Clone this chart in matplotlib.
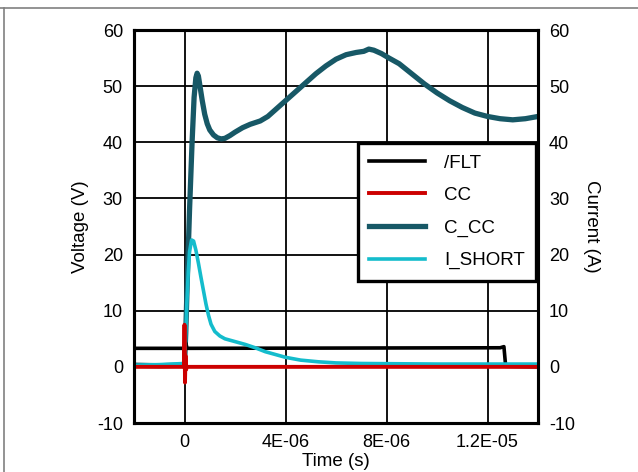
import matplotlib.pyplot as plt
from matplotlib.lines import Line2D

plt.rcParams['font.family'] = ['Liberation Sans', 'DejaVu Sans']
plt.rcParams['axes.unicode_minus'] = False

# time axis in seconds
t_cc = [-2e-6, -1e-6, -0.1e-6, 0, 0.05e-6, 0.1e-6, 0.2e-6, 0.3e-6, 0.38e-6, 0.45e-6,
        0.5e-6, 0.55e-6, 0.62e-6, 0.7e-6, 0.8e-6, 0.9e-6, 1.0e-6, 1.15e-6, 1.3e-6,
        1.45e-6, 1.6e-6, 1.8e-6, 2.0e-6, 2.3e-6, 2.6e-6, 3.0e-6, 3.3e-6, 3.6e-6,
        4.0e-6, 4.4e-6, 4.8e-6, 5.2e-6, 5.6e-6, 6.0e-6, 6.4e-6, 6.8e-6, 7.1e-6,
        7.3e-6, 7.5e-6, 7.8e-6, 8.1e-6, 8.5e-6, 9.0e-6, 9.5e-6, 10e-6, 10.5e-6,
        11e-6, 11.5e-6, 12e-6, 12.5e-6, 13e-6, 13.5e-6, 14e-6]
c_cc = [0.3, 0.2, 0.3, 0.5, 6, 14, 28, 40, 48, 51.5,
        52.3, 51.8, 49.8, 47.5, 45.0, 43.3, 42.2, 41.3, 40.8,
        40.6, 40.7, 41.2, 41.8, 42.6, 43.2, 43.8, 44.6, 45.8,
        47.4, 49.0, 50.6, 52.2, 53.6, 54.8, 55.6, 56.0, 56.2,
        56.6, 56.4, 55.8, 55.0, 54.0, 52.2, 50.4, 48.8, 47.4,
        46.2, 45.2, 44.6, 44.2, 44.0, 44.2, 44.6]

t_short = [-2e-6, -1e-6, 0, 0.05e-6, 0.1e-6, 0.15e-6, 0.2e-6, 0.28e-6, 0.36e-6,
           0.45e-6, 0.55e-6, 0.65e-6, 0.75e-6, 0.85e-6, 0.95e-6, 1.05e-6, 1.2e-6,
           1.4e-6, 1.6e-6, 2.0e-6, 2.4e-6, 2.8e-6, 3.2e-6, 3.6e-6, 4.0e-6, 4.6e-6,
           5.3e-6, 6e-6, 7e-6, 10e-6, 14e-6]
i_short = [0.3, 0.4, 0.6, 6, 12, 17, 20.5, 22.6, 22.4,
           20.8, 18.5, 16.0, 13.6, 11.2, 9.2, 7.6, 6.3,
           5.5, 5.0, 4.5, 4.0, 3.4, 2.7, 2.2, 1.7, 1.2,
           0.9, 0.7, 0.6, 0.5, 0.5]

t_flt = [-2e-6, 0, 0.05e-6, 0.1e-6, 12.5e-6, 12.65e-6, 12.72e-6, 14e-6]
flt = [3.3, 3.3, 4.3, 3.3, 3.4, 3.6, 0.1, 0.0]

t_red = [-2e-6, -0.02e-6, 0.0, 0.02e-6, 0.04e-6, 0.06e-6, 0.1e-6, 14e-6]
cc = [0.0, 0.0, 7.5, -2.8, 2.0, -0.5, 0.0, 0.0]

xticks = [0, 4e-6, 8e-6, 12e-6]
xtick_labels = ["0", "4E-06", "8E-06", "1.2E-05"]
yticks = [-10, 0, 10, 20, 30, 40, 50, 60]

fig = plt.figure(figsize=(6.38, 4.72), dpi=100)
ax = fig.add_axes([134 / 638, 1 - 423 / 472, 404 / 638, 393 / 472])

ax.plot(t_cc, c_cc, color="#175866", lw=3.8, label="C_CC", zorder=3,
        solid_joinstyle="round")
ax.plot(t_flt, flt, color="black", lw=2.6, label="/FLT", zorder=4)
ax.plot(t_short, i_short, color="#14bccc", lw=2.6, label="I_SHORT", zorder=5,
        solid_joinstyle="round")
ax.plot(t_red, cc, color="#cc0000", lw=2.8, label="CC", zorder=6)

ax.set_xlim(-2e-6, 14e-6)
ax.set_ylim(-10, 60)
ax.set_xticks(xticks)
ax.set_xticklabels(xtick_labels)
ax.set_yticks(yticks)
ax.grid(True, color="black", lw=1.3)
ax.tick_params(length=0, labelsize=13, pad=8)
for s in ax.spines.values():
    s.set_linewidth(2.2)
ax.set_xlabel("Time (s)", fontsize=13.5, labelpad=1)
ax.set_ylabel("Voltage (V)", fontsize=13.5, labelpad=6)

ax2 = ax.twinx()
ax2.set_ylim(-10, 60)
ax2.set_yticks(yticks)
ax2.tick_params(length=0, labelsize=13, pad=8)
for s in ax2.spines.values():
    s.set_linewidth(2.2)
ax2.set_ylabel("Current (A)", fontsize=13.5, rotation=270, labelpad=18)

handles, labels = ax.get_legend_handles_labels()
order = ["/FLT", "CC", "C_CC", "I_SHORT"]
hmap = dict(zip(labels, handles))
leg = ax2.legend([hmap[k] for k in order], order, loc="upper right",
                 bbox_to_anchor=(0.995, 0.712), fontsize=13.5, fancybox=False,
                 framealpha=1, edgecolor="black", handlelength=3.0,
                 handletextpad=1.0, labelspacing=0.82, borderpad=0.6,
                 borderaxespad=0)
leg.get_frame().set_linewidth(2.4)

# page frame lines
fig.add_artist(Line2D([0, 1], [1 - 8 / 472, 1 - 8 / 472], color="#808080", lw=1.2))
fig.add_artist(Line2D([4 / 638, 4 / 638], [0, 1 - 8 / 472], color="#808080", lw=1.2))

fig.savefig("out.png", dpi=100)
